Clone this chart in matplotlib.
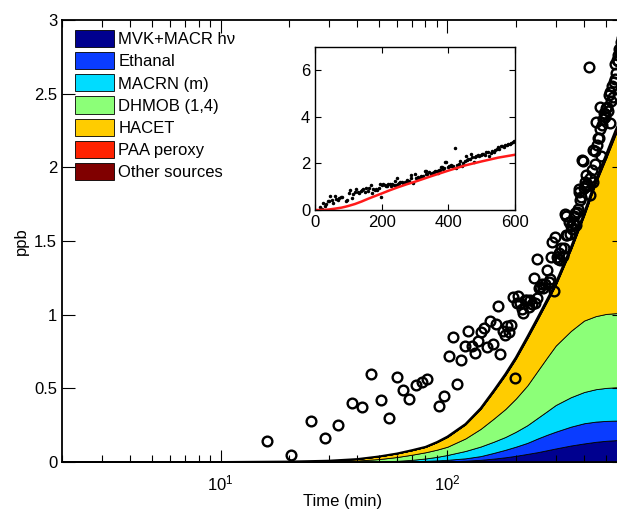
import matplotlib
matplotlib.use('Agg')
import matplotlib.pyplot as plt
import numpy as np
from matplotlib.ticker import NullFormatter, FormatStrFormatter

plt.rcParams['font.family'] = ['Liberation Sans', 'DejaVu Sans']
plt.rcParams['mathtext.fontset'] = 'custom'
plt.rcParams['mathtext.rm'] = 'Liberation Sans'
plt.rcParams['font.size'] = 12

# model time grid (min) and source contributions (ppb)
model_t = [2, 10, 20, 30, 40, 50, 60, 70, 80, 90, 100, 120, 140, 160, 180,
           200, 225, 250, 275, 300, 350, 400, 450, 500, 550, 600]
mvk_macr_hv = [0, 0, 0, 0, 0, 0.0005, 0.001, 0.0015, 0.002, 0.003, 0.004, 0.009,
               0.015, 0.023, 0.032, 0.042, 0.055, 0.067, 0.08, 0.092, 0.112,
               0.126, 0.137, 0.144, 0.148, 0.151]
ethanal = [0, 0, 0, 0, 0.0005, 0.0005, 0.002, 0.0035, 0.006, 0.008, 0.011, 0.016,
           0.025, 0.039, 0.051, 0.062, 0.075, 0.093, 0.105, 0.114, 0.128, 0.137,
           0.137, 0.135, 0.133, 0.131]
macrn = [0, 0, 0, 0.001, 0.0015, 0.003, 0.005, 0.010, 0.016, 0.024, 0.033, 0.050,
         0.065, 0.076, 0.087, 0.101, 0.12, 0.14, 0.16, 0.181, 0.20, 0.212, 0.22,
         0.224, 0.226, 0.226]
dhmob = [0, 0, 0.001, 0.003, 0.008, 0.016, 0.026, 0.035, 0.042, 0.049, 0.056,
         0.085, 0.12, 0.157, 0.19, 0.225, 0.27, 0.32, 0.365, 0.403, 0.45, 0.485,
         0.496, 0.502, 0.503, 0.504]
hacet = [0, 0, 0.002, 0.005, 0.01, 0.018, 0.024, 0.03, 0.036, 0.051, 0.066, 0.095,
         0.135, 0.185, 0.23, 0.27, 0.32, 0.35, 0.38, 0.41, 0.55, 0.71, 0.90,
         1.055, 1.21, 1.328]
paa_peroxy = [0, 0, 0, 0, 0, 0, 0, 0, 0, 0, 0.001, 0.001, 0.002, 0.002, 0.003,
              0.003, 0.004, 0.004, 0.005, 0.005, 0.006, 0.007, 0.008, 0.009,
              0.010, 0.011]
other = [0, 0, 0, 0, 0, 0, 0, 0.001, 0.001, 0.001, 0.002, 0.002, 0.003, 0.004,
         0.005, 0.006, 0.007, 0.008, 0.009, 0.01, 0.012, 0.014, 0.016, 0.018,
         0.02, 0.022]

labels = ['MVK+MACR h\u03bd', 'Ethanal', 'MACRN (m)', 'DHMOB (1,4)', 'HACET',
          'PAA peroxy', 'Other sources']
colors = ['#00008f', '#0a3cff', '#00dcff', '#8cff78', '#ffcc00', '#ff2200',
          '#800000']

# observations
obs_t = [16, 20.5, 25, 29, 33, 38, 42, 46, 51, 55, 60, 64, 68, 73, 77, 81, 92, 97,
         102, 106, 110, 115, 119, 123, 128, 132, 137, 141, 145, 150, 154, 159,
         163, 167, 171, 175, 179, 183, 187, 191, 195, 199, 202, 205, 209, 213,
         216, 220, 224, 228, 232, 236, 240, 244, 247, 248, 252, 256, 261, 265,
         270, 275, 279, 283, 287, 289, 294, 299, 303, 306, 310, 314, 318, 322,
         325, 329, 333, 334, 337, 342, 347, 350, 354, 358, 361, 366, 370, 372,
         376, 379, 381, 385, 388, 391, 394, 398, 402, 405, 409, 412, 414, 419,
         424, 427, 432, 436, 440, 445, 449, 452, 456, 460, 464, 468, 472, 476,
         480, 484, 489, 493, 497, 501, 505, 509, 514, 518, 522, 527, 532, 536,
         540, 545, 549, 553, 557, 562, 566, 571, 575, 580, 584, 589, 593, 598]
obs_y = [0.14, 0.05, 0.28, 0.16, 0.25, 0.40, 0.37, 0.60, 0.42, 0.30, 0.58, 0.49,
         0.43, 0.52, 0.54, 0.56, 0.38, 0.45, 0.72, 0.85, 0.53, 0.69, 0.79, 0.89,
         0.79, 0.74, 0.82, 0.88, 0.91, 0.78, 0.96, 0.80, 0.94, 1.06, 0.73, 0.89,
         0.86, 0.92, 0.88, 0.93, 1.12, 0.57, 1.08, 1.13, 1.08, 1.04, 1.01, 1.10,
         1.10, 1.05, 1.10, 1.07, 1.25, 1.08, 1.38, 1.11, 1.18, 1.19, 1.21, 1.18,
         1.21, 1.30, 1.22, 1.24, 1.39, 1.49, 1.16, 1.53, 1.39, 1.38, 1.42, 1.37,
         1.45, 1.40, 1.45, 1.68, 1.67, 1.54, 1.54, 1.63, 1.55, 1.60, 1.58, 1.62,
         1.67, 1.69, 1.61, 1.70, 1.72, 1.83, 1.85, 1.78, 1.80, 2.05, 2.04, 1.86,
         1.90, 1.87, 1.95, 1.88, 1.89, 2.68, 1.81, 1.93, 1.98, 2.12, 1.90, 2.02,
         2.11, 2.31, 2.15, 2.20, 2.20, 2.41, 2.26, 2.08, 2.29, 2.33, 2.37, 2.34,
         2.36, 2.40, 2.41, 2.38, 2.49, 2.51, 2.30, 2.45, 2.55, 2.48, 2.58, 2.60,
         2.70, 2.64, 2.73, 2.76, 2.72, 2.80, 2.78, 2.85, 2.82, 2.88, 2.92, 2.95]

layers = [mvk_macr_hv, ethanal, macrn, dhmob, hacet, paa_peroxy, other]
total = np.sum(np.array(layers), axis=0)

fig = plt.figure(figsize=(6.17, 5.09), dpi=100)
ax = fig.add_axes([62/617, 47/509, 562/617, 442/509])

ax.stackplot(model_t, *layers, colors=colors, labels=labels,
             edgecolor='k', linewidth=0.6)
ax.plot(model_t, total, color='k', lw=1.4)
ax.plot(obs_t, obs_y, 'o', mfc='none', mec='k', ms=7, mew=1.7)

ax.set_xscale('log')
ax.set_xlim(2, 600)
ax.set_ylim(0, 3)
ax.set_yticks([0, 0.5, 1, 1.5, 2, 2.5, 3])
ax.yaxis.set_major_formatter(FormatStrFormatter('%g'))
ax.xaxis.set_minor_formatter(NullFormatter())
ax.tick_params(which='both', direction='in', top=True, right=True, labelsize=12)
ax.tick_params(which='major', length=9, width=0.8)
ax.tick_params(which='minor', length=5, width=0.8)
ax.tick_params(axis='x', which='major', pad=8)
for s in ax.spines.values():
    s.set_linewidth(1.3)
ax.set_xlabel('Time (min)', fontsize=12, labelpad=1)
ax.set_ylabel('ppb', fontsize=12)

ax.legend(loc='upper left', bbox_to_anchor=(13/562, 1 - 10/442),
          borderaxespad=0, borderpad=0, frameon=False, handlelength=2.34,
          handleheight=1.2, labelspacing=0.3, handletextpad=0.27, fontsize=12)

# inset: linear time
axi = fig.add_axes([315/617, 299/509, 200/617, 163/509])
axi.plot(obs_t, obs_y, '.', color='k', ms=3)
axi.plot(model_t, total, color='#ff1a1a', lw=1.8)
axi.set_xlim(0, 600)
axi.set_ylim(0, 7)
axi.set_xticks([0, 200, 400, 600])
axi.set_yticks([0, 2, 4, 6])
axi.tick_params(direction='in', top=True, right=True, length=4, labelsize=12)
for s in axi.spines.values():
    s.set_linewidth(1.0)

fig.savefig('out.png', dpi=100)
